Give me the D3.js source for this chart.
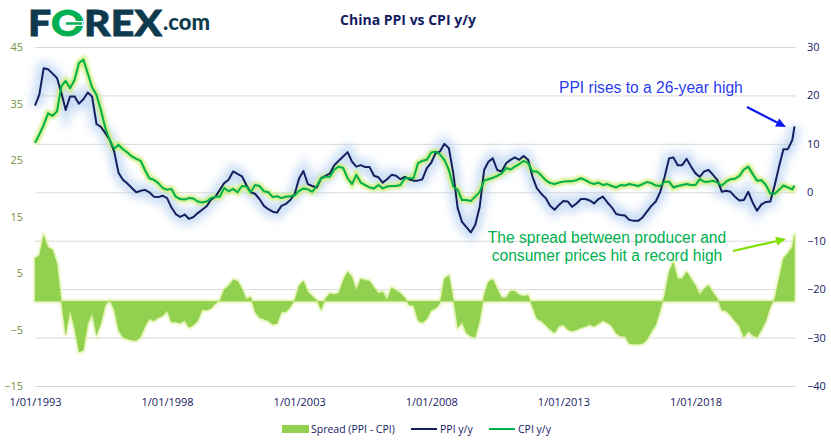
<!DOCTYPE html>
<html>
<head>
<meta charset="utf-8">
<script src="https://cdnjs.cloudflare.com/ajax/libs/d3/7.8.5/d3.min.js"></script>
<style>
  body { margin: 0; background: #fff; }
  text { font-family: "Open Sans", "Noto Sans", sans-serif; }
</style>
</head>
<body>
<div id="chart"></div>
<script>
// months since Jan 1993, read every second month, last point is Oct 2021
var months = d3.range(0, 345, 2).concat([345]);

var ppi = [
  17.9, 20.1, 25.6, 25.4, 24.5, 23.6, 20.5, 17.0, 19.8, 19.8,
  18.3, 19.2, 20.6, 19.8, 14.1, 13.5, 12.2, 10.8, 8.4, 4.0,
  2.6, 1.8, 0.9, 0, 0.3, 0.5, 0, -0.9, -1, -0.7,
  -1.2, -3.1, -4.5, -5.1, -4.6, -5.5, -5.1, -4.3, -3.6, -2.9,
  -1.5, -0.9, 0.5, 1.9, 2.6, 4.3, 3.8, 3.3, 1.5, 0,
  -0.3, -1.4, -2.8, -3.5, -4.0, -4.2, -2.8, -2.4, -1.6, -0.3,
  2.9, 4.4, 1.7, 1.3, 1.0, 2.9, 3.4, 3.9, 5.6, 6.5,
  7.4, 8.3, 6.3, 5.3, 5.6, 5.2, 5.2, 3.4, 3.1, 2.0,
  2.7, 3.6, 3.4, 2.7, 3.2, 2.7, 2.4, 2.4, 2.7, 5.0,
  6.1, 8.1, 8.4, 10.0, 9.1, 3.9, -3.3, -6.1, -7.2, -8.3,
  -6.7, -3, 4.6, 6.3, 7.0, 4.6, 4.3, 6.0, 6.7, 7.2,
  6.7, 7.5, 6.7, 3.2, 0.8, -0.3, -1.2, -2.8, -3.6, -2.6,
  -1.8, -1.9, -3.0, -2.3, -1.4, -1.4, -1.7, -2.3, -1.4, -0.9,
  -2.1, -3.1, -4.5, -4.7, -4.8, -5.7, -5.9, -5.9, -5.2, -4.0,
  -2.8, -1.9, 0.1, 3.2, 7.0, 7.2, 5.6, 5.6, 6.9, 5.3,
  3.9, 3.2, 4.3, 4.6, 3.6, 2.5, 0.1, 0.3, 0.1, -0.9,
  -1.7, -1.6, 0.1, -2.1, -3.8, -2.5, -2.0, -1.9, 1.5, 5.3,
  8.9, 8.9, 10.8, 13.6
];

var cpi = [
  10.2, 11.9, 13.9, 16.3, 15.8, 16.7, 21.9, 23.0, 21.5, 23.2,
  26.7, 27.4, 24.5, 21.7, 20.1, 17.0, 13.2, 10.8, 9.0, 9.8,
  8.9, 8.2, 7.4, 6.9, 6.5, 4.6, 2.9, 2.6, 1.9, 0.9,
  0.5, 0.7, -0.9, -1.4, -1.5, -1.2, -1.3, -1.9, -2.1, -1.9,
  -1.2, -0.9, -0.9, 0.9, 0.2, 0.7, 0, 1.3, 1.2, 0,
  1.5, 1.3, 0.2, 0, -1.0, -0.8, -1.2, -0.9, -0.8, -0.6,
  0.3, 0.8, 0.6, 0.1, 1.3, 2.9, 3.2, 3.2, 4.7, 5.3,
  5.0, 2.9, 1.7, 3.6, 2.0, 1.5, 1.0, 0.8, 1.5, 0.8,
  1.2, 1.3, 1.3, 1.5, 2.9, 2.9, 2.9, 6.0, 6.5, 6.7,
  8.2, 8.4, 7.8, 6.7, 4.6, 1.2, 0.5, -1.6, -1.6, -1.8,
  -0.9, 0.1, 2.4, 2.7, 3.0, 3.4, 3.9, 5.0, 4.7, 5.3,
  5.8, 6.5, 6.0, 4.3, 4.3, 3.5, 2.5, 1.9, 1.7, 2.0,
  2.2, 2.3, 2.3, 2.5, 2.9, 2.5, 2.0, 1.7, 2.0, 1.5,
  1.7, 1.3, 1.0, 1.5, 1.4, 1.7, 1.5, 1.3, 1.7, 2.1,
  1.9, 1.4, 1.3, 2.2, 2.2, 1.0, 1.3, 1.5, 1.7, 1.5,
  1.5, 2.7, 2.2, 2.2, 2.4, 2.0, 1.4, 2.2, 2.7, 2.8,
  3.4, 4.7, 5.3, 3.8, 2.4, 2.5, 1.5, -0.3, -0.3, 0.5,
  1.4, 1.0, 0.6, 1.4
];

var spread = [
  7.6, 8.1, 11.7, 9.5, 9.1, 6.7, -0.1, -6.0, -1.6, -4.8,
  -9.0, -8.7, -4.0, -2.1, -6.0, -4.0, -0.7, 0.2, -1.5, -5.1,
  -6.4, -6.7, -6.9, -7.0, -6.3, -4.5, -3.1, -3.5, -2.9, -2.6,
  -1.7, -3.7, -3.7, -3.9, -3.4, -4.7, -4.2, -3.5, -1.5, -1.6,
  -1.3, -0.4, 0.1, 2.1, 2.7, 3.8, 3.6, 2.2, 0.3, 0.8,
  -1.9, -2.9, -3.2, -3.5, -4.1, -4.0, -1.9, -1.9, -1.0, 0.2,
  2.8, 3.6, 1.7, 0.9, 0.2, -1.5, 0.5, 1.4, 1.2, 1.4,
  3.7, 5.2, 4.3, 1.9, 4.0, 3.7, 3.6, 2.4, 1.4, 1.7,
  0.2, 2.4, 1.9, 1.4, 0.6, -0.7, -0.7, -3.4, -3.8, -3.1,
  -1.6, -1.3, -0.4, 4.0, 4.6, 0.5, -4.7, -3.7, -5.6, -6.2,
  -6.4, -3.4, 1.1, 3.4, 3.9, 2.2, 0.6, 0.6, 1.8, 1.8,
  1.1, 0.9, 1.1, -1.0, -3.1, -3.5, -4.2, -5.0, -5.6, -4.4,
  -4.2, -5.0, -5.3, -5.1, -4.7, -4.5, -4.1, -4.5, -4.0, -3.4,
  -3.8, -4.4, -5.7, -6.2, -6.2, -7.5, -7.6, -7.6, -7.5, -6.8,
  -5.4, -4.2, -1.6, 1.1, 5.2, 7.0, 4.0, 4.0, 5.2, 4.0,
  2.8, 1.1, 2.2, 2.8, 1.5, 0.5, -1.6, -1.7, -2.5, -3.5,
  -4.4, -6.4, -5.3, -6.0, -6.4, -5.1, -3.5, -1.0, 0.5, 4.0,
  7.6, 8.5, 9.6, 12.0
];

var leftTicks = [45, 35, 25, 15, 5, -5, -15];
var rightTicks = [30, 20, 10, 0, -10, -20, -30, -40];
var yearTicks = [1993, 1998, 2003, 2008, 2013, 2018];

var svgWidth = 831;
var svgHeight = 448;

var navy = "#14205f";
var green = "#00b050";
var fillGreen = "#92d050";
var olive = "#76923c";

var svg = d3.select("#chart")
  .append("svg")
  .attr("width", svgWidth)
  .attr("height", svgHeight)
  .style("display", "block");

// glow filters behind the lines and the area
var defs = svg.append("defs");
[["blurWide", 5], ["blurThin", 1.8], ["blurArea", 1.3]].forEach(function(f) {
  defs.append("filter")
    .attr("id", f[0])
    .attr("x", "-10%").attr("y", "-20%")
    .attr("width", "120%").attr("height", "140%")
    .append("feGaussianBlur")
    .attr("stdDeviation", f[1]);
});

var toDate = function(m) { return new Date(1993, m, 1); };

var xScale = d3.scaleTime()
  .domain([toDate(0), toDate(345)])
  .range([35, 794.5]);

var yLeft = d3.scaleLinear().domain([-15, 45]).range([386, 47]);
var yRight = d3.scaleLinear().domain([-40, 30]).range([386, 47]);

// Gridlines and right axis
var rightAxis = d3.axisRight(yRight)
  .tickValues(rightTicks)
  .tickSize(-761)
  .tickPadding(11)
  .tickFormat(d3.format("d"));

var rightG = svg.append("g")
  .attr("transform", "translate(796,0)")
  .call(rightAxis);
rightG.select(".domain").remove();
rightG.selectAll("line").attr("stroke", "#d9d9d9").attr("stroke-width", 1);
rightG.selectAll("text")
  .attr("fill", navy)
  .style("font-size", "11px");

// Left axis
var leftAxis = d3.axisLeft(yLeft)
  .tickValues(leftTicks)
  .tickSize(0)
  .tickPadding(0)
  .tickFormat(d3.format("d"));

var leftG = svg.append("g")
  .attr("transform", "translate(23,0)")
  .call(leftAxis);
leftG.select(".domain").remove();
leftG.selectAll("text")
  .attr("fill", olive)
  .style("font-size", "11px");

// Bottom axis
var bottomAxis = d3.axisBottom(xScale)
  .tickValues(yearTicks.map(function(y) { return new Date(y, 0, 1); }))
  .tickSize(0)
  .tickPadding(0)
  .tickFormat(d3.timeFormat("%-d/%m/%Y"));

var bottomG = svg.append("g")
  .attr("transform", "translate(0,398)")
  .call(bottomAxis);
bottomG.select(".domain").remove();
bottomG.selectAll("text")
  .attr("fill", navy)
  .style("font-size", "11px");

// Spread area
var area = d3.area()
  .x(function(d, i) { return xScale(toDate(months[i])); })
  .y0(yLeft(0))
  .y1(function(d) { return yLeft(d); });

svg.append("path")
  .datum(spread)
  .attr("d", area)
  .attr("fill", "#d4ee90")
  .attr("stroke", "#d4ee90")
  .attr("stroke-width", 2.5)
  .attr("filter", "url(#blurArea)");

svg.append("path")
  .datum(spread)
  .attr("d", area)
  .attr("fill", fillGreen);

// Lines
var line = function(axis) {
  return d3.line()
    .x(function(d, i) { return xScale(toDate(months[i])); })
    .y(function(d) { return axis(d); });
};

svg.append("path")
  .datum(ppi)
  .attr("d", line(yRight))
  .attr("fill", "none")
  .attr("stroke", "#b4cff0")
  .attr("stroke-width", 12)
  .attr("opacity", 0.75)
  .attr("filter", "url(#blurWide)");

svg.append("path")
  .datum(cpi)
  .attr("d", line(yRight))
  .attr("fill", "none")
  .attr("stroke", "#cdee78")
  .attr("stroke-width", 6)
  .attr("filter", "url(#blurThin)");

svg.append("path")
  .datum(ppi)
  .attr("d", line(yRight))
  .attr("fill", "none")
  .attr("stroke", navy)
  .attr("stroke-width", 2)
  .attr("stroke-linejoin", "round");

svg.append("path")
  .datum(cpi)
  .attr("d", line(yRight))
  .attr("fill", "none")
  .attr("stroke", green)
  .attr("stroke-width", 2)
  .attr("stroke-linejoin", "round");

// Title
svg.append("text")
  .attr("x", 408)
  .attr("y", 25)
  .attr("text-anchor", "middle")
  .attr("fill", navy)
  .style("font-size", "14px")
  .style("font-weight", 700)
  .text("China PPI vs CPI y/y");

// Logo
var logo = svg.append("text")
  .attr("x", 28)
  .attr("y", 36)
  .attr("fill", "#0e3a4d")
  .style("font-family", "Lato")
  .style("font-size", "36px")
  .style("font-weight", 900)
  .attr("stroke", "#0e3a4d")
  .attr("stroke-width", 0.8)
  .attr("textLength", 134)
  .attr("lengthAdjust", "spacingAndGlyphs");
logo.append("tspan").text("F");
logo.append("tspan").attr("fill", "#00b050").attr("stroke", "#00b050").text("O");
logo.append("tspan").text("REX");

// small mark across the green O
svg.append("line")
  .attr("x1", 64).attr("x2", 83).attr("y1", 23.5).attr("y2", 23.5)
  .attr("stroke", "#fff").attr("stroke-width", 5);
svg.append("line")
  .attr("x1", 66).attr("x2", 82).attr("y1", 23.5).attr("y2", 23.5)
  .attr("stroke", "#00b050").attr("stroke-width", 2.5);

svg.append("text")
  .attr("x", 163)
  .attr("y", 30)
  .attr("fill", "#0e3a4d")
  .style("font-family", "Lato")
  .style("font-size", "22px")
  .style("font-weight", 900)
  .text(".com");

// Annotations
svg.append("text")
  .attr("x", 559)
  .attr("y", 93)
  .attr("fill", "#2a3cf0")
  .style("font-family", "Liberation Sans")
  .style("font-size", "15.6px")
  .text("PPI rises to a 26-year high");

var note = svg.append("text")
  .attr("text-anchor", "middle")
  .attr("fill", green)
  .style("font-family", "Liberation Sans")
  .style("font-size", "15.6px");
note.append("tspan").attr("x", 607).attr("y", 243).text("The spread between producer and");
note.append("tspan").attr("x", 607).attr("y", 261).text("consumer prices hit a record high");

// Arrows
var arrow = function(x1, y1, x2, y2, color) {
  var a = Math.atan2(y2 - y1, x2 - x1);
  var head = 10;
  var wing = 4.5;
  var bx = x2 - head * Math.cos(a);
  var by = y2 - head * Math.sin(a);
  svg.append("line")
    .attr("x1", x1).attr("y1", y1).attr("x2", bx).attr("y2", by)
    .attr("stroke", color)
    .attr("stroke-width", 2.2);
  svg.append("polygon")
    .attr("fill", color)
    .attr("points", [
      [x2, y2],
      [bx + wing * Math.sin(a), by - wing * Math.cos(a)],
      [bx - wing * Math.sin(a), by + wing * Math.cos(a)]
    ].join(" "));
};
arrow(747, 107, 786, 127, "#0a1af0");
arrow(733, 251, 786, 239, "#7fe000");

// Legend
var legend = svg.append("g");
legend.append("rect")
  .attr("x", 282).attr("y", 425)
  .attr("width", 27).attr("height", 8)
  .attr("fill", fillGreen);
legend.append("line")
  .attr("x1", 411).attr("x2", 437).attr("y1", 429).attr("y2", 429)
  .attr("stroke", navy).attr("stroke-width", 2);
legend.append("line")
  .attr("x1", 489).attr("x2", 515).attr("y1", 429).attr("y2", 429)
  .attr("stroke", green).attr("stroke-width", 2);
[[311, "Spread (PPI - CPI)"], [440, "PPI y/y"], [518, "CPI y/y"]].forEach(function(l) {
  legend.append("text")
    .attr("x", l[0])
    .attr("y", 433)
    .attr("fill", navy)
    .style("font-size", "10.5px")
    .text(l[1]);
});
</script>
</body>
</html>
